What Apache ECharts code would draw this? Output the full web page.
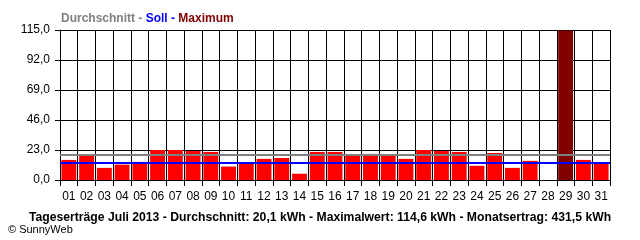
<!DOCTYPE html>
<html><head><meta charset="utf-8">
<script src="https://cdn.jsdelivr.net/npm/echarts@6/dist/echarts.min.js"></script>
<style>html,body{margin:0;padding:0;background:#fff}#c{width:640px;height:240px}</style>
</head><body><div id="c"></div>
<script>
const days = ['01','02','03','04','05','06','07','08','09','10','11','12','13','14','15','16','17','18','19','20','21','22','23','24','25','26','27','28','29','30','31'];
const yields = [15.4,19.0,9.3,11.8,13.9,23.0,23.0,22.2,21.5,10.3,12.9,16.2,16.9,4.8,21.5,21.5,19.0,20.0,19.0,16.2,23.0,22.2,21.5,10.9,20.7,9.3,14.7,0,114.6,15.4,12.9];
const averageLine = 19.0;
const targetLine = 13.0;
const titleParts = ['Durchschnitt - ', 'Soll - ', 'Maximum'];
const footer = 'Tageserträge Juli 2013 - Durchschnitt: 20,1 kWh - Maximalwert: 114,6 kWh - Monatsertrag: 431,5 kWh';
const copyright = '© SunnyWeb';

const maxVal = Math.max(...yields);
const FONT = 'Liberation Sans Narrow, Liberation Sans, Arial, sans-serif';
const BFONT = 'Liberation Sans, Arial, sans-serif';
const chart = echarts.init(document.getElementById('c'), null, {renderer:'canvas'});
chart.setOption({
  animation:false,
  backgroundColor:'#fff',
  grid:{left:60, right:30, top:30, bottom:60, containLabel:false},
  title:[
    {left:56, top:8, text:'{g|'+titleParts[0]+'}{b|'+titleParts[1]+'}{m|'+titleParts[2]+'}',
     textStyle:{rich:{
       g:{color:'#808080', fontWeight:'bold', fontSize:12, fontFamily:BFONT},
       b:{color:'#0000ff', fontWeight:'bold', fontSize:12, fontFamily:BFONT},
       m:{color:'#800000', fontWeight:'bold', fontSize:12, fontFamily:BFONT}}}},
    {left:'center', top:207, text:footer,
     textStyle:{color:'#000', fontWeight:'bold', fontSize:12.2, fontFamily:BFONT}},
    {left:3, top:219, text:copyright,
     textStyle:{color:'#000', fontWeight:'normal', fontSize:11, fontFamily:FONT}}
  ],
  xAxis:{
    type:'category', data:days, boundaryGap:true,
    axisLine:{show:true, lineStyle:{color:'#000', width:1}},
    axisTick:{show:true, alignWithLabel:false, length:6, lineStyle:{color:'#000'}},
    axisLabel:{color:'#000', fontSize:12, fontFamily:FONT, margin:11, interval:0},
    splitLine:{show:true, interval:0, lineStyle:{color:'#000', width:1}}
  },
  yAxis:{
    type:'value', min:0, max:115, interval:23,
    axisLine:{show:true, lineStyle:{color:'#000', width:1}},
    axisTick:{show:true, length:5, lineStyle:{color:'#000'}},
    axisLabel:{color:'#000', fontSize:12, fontFamily:FONT, margin:10,
      formatter:v=>v.toFixed(1).replace('.',',')},
    splitLine:{show:true, lineStyle:{color:'#000', width:1}}
  },
  series:[{
    type:'bar', barCategoryGap:'16%',
    data:yields.map(v=>({value:v, itemStyle:{color: v===maxVal ? '#800000' : '#ff0000'}})),
    markLine:{silent:true, symbol:['none','none'], label:{show:false}, z:5,
      data:[
        {yAxis:averageLine, lineStyle:{color:'#808080', width:2, type:'solid'}},
        {yAxis:targetLine, lineStyle:{color:'#0000ff', width:2, type:'solid'}}
      ]}
  }]
});
</script></body></html>
